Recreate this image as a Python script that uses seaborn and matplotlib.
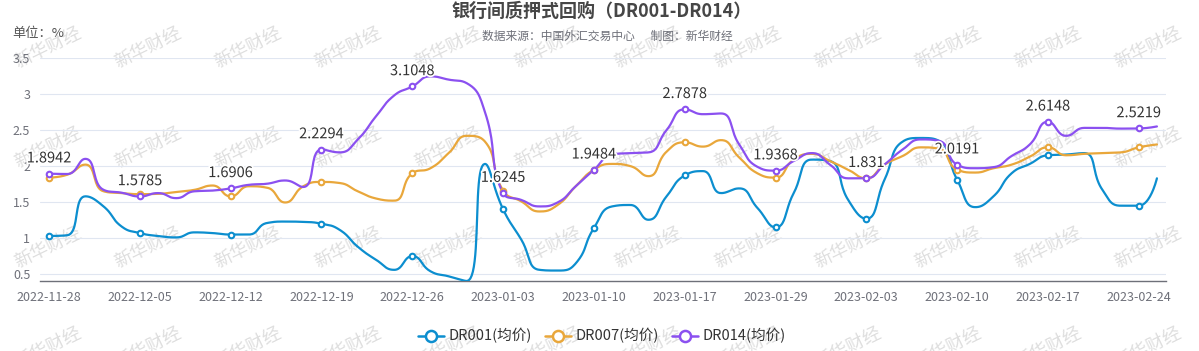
import numpy as np
import matplotlib
matplotlib.use("Agg")
import matplotlib.pyplot as plt
import seaborn as sns
from matplotlib import patheffects
from matplotlib.lines import Line2D

sns.set_theme(style="white")
plt.rcParams["font.family"] = ["Noto Sans CJK SC", "DejaVu Sans"]

# ---- data ----
dates = [
    "2022-11-28", "2022-11-29", "2022-11-30", "2022-12-01", "2022-12-02",
    "2022-12-05", "2022-12-06", "2022-12-07", "2022-12-08", "2022-12-09",
    "2022-12-12", "2022-12-13", "2022-12-14", "2022-12-15", "2022-12-16",
    "2022-12-19", "2022-12-20", "2022-12-21", "2022-12-22", "2022-12-23",
    "2022-12-26", "2022-12-27", "2022-12-28", "2022-12-29", "2022-12-30",
    "2023-01-03", "2023-01-04", "2023-01-05", "2023-01-06", "2023-01-09",
    "2023-01-10", "2023-01-11", "2023-01-12", "2023-01-13", "2023-01-16",
    "2023-01-17", "2023-01-18", "2023-01-19", "2023-01-20", "2023-01-28",
    "2023-01-29", "2023-01-30", "2023-01-31", "2023-02-01", "2023-02-02",
    "2023-02-03", "2023-02-06", "2023-02-07", "2023-02-08", "2023-02-09",
    "2023-02-10", "2023-02-13", "2023-02-14", "2023-02-15", "2023-02-16",
    "2023-02-17", "2023-02-20", "2023-02-21", "2023-02-22", "2023-02-23",
    "2023-02-24", "2023-02-27",
]

dr001 = [
    1.03, 1.04, 1.58, 1.44, 1.16, 1.07, 1.03, 1.01, 1.08, 1.07,
    1.05, 1.05, 1.21, 1.23, 1.225, 1.20, 1.115, 0.88, 0.70, 0.56,
    0.75, 0.54, 0.47, 0.405, 2.03, 1.40, 0.98, 0.56, 0.55, 0.65,
    1.14, 1.44, 1.46, 1.255, 1.58, 1.87, 1.93, 1.625, 1.69, 1.42,
    1.15, 1.625, 2.09, 2.07, 1.53, 1.27, 1.81, 2.34, 2.39, 2.35,
    1.81, 1.43, 1.58, 1.90, 2.03, 2.15, 2.16, 2.18, 1.67, 1.45,
    1.45, 1.83,
]
dr007 = [
    1.84, 1.88, 2.02, 1.65, 1.625, 1.61, 1.615, 1.64, 1.67, 1.73,
    1.58, 1.72, 1.70, 1.495, 1.72, 1.78, 1.765, 1.65, 1.55, 1.52,
    1.90, 1.97, 2.18, 2.42, 2.34, 1.66, 1.51, 1.37, 1.46, 1.72,
    1.95, 2.03, 2.00, 1.86, 2.20, 2.33, 2.27, 2.36, 2.12, 1.90,
    1.84, 2.09, 2.17, 2.07, 1.95, 1.83, 2.02, 2.14, 2.26, 2.24,
    1.95, 1.91, 1.97, 2.02, 2.13, 2.26, 2.15, 2.17, 2.18, 2.19,
    2.26, 2.30,
]
dr014 = [
    1.8942, 1.89, 2.10, 1.67, 1.63, 1.5785, 1.625, 1.555, 1.65, 1.66,
    1.6906, 1.74, 1.755, 1.80, 1.71, 2.2294, 2.19, 2.37, 2.69, 2.98,
    3.1048, 3.245, 3.20, 3.15, 2.75, 1.6245, 1.53, 1.44, 1.495, 1.72,
    1.9484, 2.16, 2.18, 2.19, 2.50, 2.7878, 2.72, 2.73, 2.30, 1.99,
    1.9368, 2.07, 2.18, 2.02, 1.83, 1.831, 2.02, 2.23, 2.37, 2.35,
    2.0191, 1.97, 1.985, 2.14, 2.30, 2.6148, 2.42, 2.53, 2.53, 2.52,
    2.5219, 2.55,
]

series_names = ["DR001(均价)", "DR007(均价)", "DR014(均价)"]
colors = ["#0C8ECF", "#E9A73B", "#8B50F0"]

W, H = 1199, 351
fig = plt.figure(figsize=(W / 100, H / 100), dpi=100)
ax = fig.add_axes([40 / W, 1 - 281 / H, 1126 / W, 223 / H])
ax.set_facecolor("none")

n = len(dates)
idx = np.arange(n)
ymin = min(min(dr001), min(dr007), min(dr014))
ymax = 3.5
sx = 1126 / n
sy = 223 / (ymax - ymin)


def smooth_line(xs, ys, smooth=0.5, steps=24):
    # echarts style bezier smoothing (in pixel space)
    px = np.asarray(xs, float) * sx
    py = np.asarray(ys, float) * sy
    out_x, out_y = [px[0]], [py[0]]
    cp0 = (px[0], py[0])
    for i in range(1, len(px)):
        x, y = px[i], py[i]
        prx, pry = px[i - 1], py[i - 1]
        if i == len(px) - 1:
            cp1 = (x, y)
            ncp0 = (x, y)
        else:
            nx, ny = px[i + 1], py[i + 1]
            vx, vy = nx - prx, ny - pry
            lp = np.hypot(x - prx, y - pry)
            ln = np.hypot(nx - x, ny - y)
            r = ln / (ln + lp)
            ncx = x + vx * smooth * r
            ncy = y + vy * smooth * r
            ncx = max(min(ncx, max(nx, x)), min(nx, x))
            ncy = max(min(ncy, max(ny, y)), min(ny, y))
            vx, vy = ncx - x, ncy - y
            c1x = x - vx * lp / ln
            c1y = y - vy * lp / ln
            c1x = max(min(c1x, max(prx, x)), min(prx, x))
            c1y = max(min(c1y, max(pry, y)), min(pry, y))
            vx, vy = x - c1x, y - c1y
            ncp0 = (x + vx * ln / lp, y + vy * ln / lp)
            cp1 = (c1x, c1y)
        t = np.linspace(0, 1, steps)[1:]
        bx = ((1 - t) ** 3 * prx + 3 * (1 - t) ** 2 * t * cp0[0]
              + 3 * (1 - t) * t ** 2 * cp1[0] + t ** 3 * x)
        by = ((1 - t) ** 3 * pry + 3 * (1 - t) ** 2 * t * cp0[1]
              + 3 * (1 - t) * t ** 2 * cp1[1] + t ** 3 * y)
        out_x.extend(bx)
        out_y.extend(by)
        cp0 = ncp0
    return np.array(out_x) / sx, np.array(out_y) / sy


# ---- watermark ----
for r in range(4):
    for c in range(12):
        fig.text((48 + 100 * c) / W, 1 - (48 + 100 * r) / H, "新华财经",
                 rotation=26, fontsize=13, color="#dedede",
                 ha="center", va="center", zorder=-5)

# ---- lines ----
all_vals = [dr001, dr007, dr014]
shown = idx[::5]
for vals, col in zip(all_vals, colors):
    lx, ly = smooth_line(idx, vals)
    sns.lineplot(x=lx, y=ly, ax=ax, color=col, linewidth=1.6,
                 sort=False, estimator=None, zorder=3)
    ax.plot(shown, np.array(vals)[shown], "o", ms=4, mfc="white",
            mec=col, mew=1.5, zorder=4)

# labels on DR014
for i in shown:
    v = dr014[i]
    ax.annotate(f"{v:g}", (i, v), xytext=(0, 11), textcoords="offset points",
                ha="center", va="center", fontsize=10.5, color="#333333",
                zorder=6,
                path_effects=[patheffects.withStroke(linewidth=2.5, foreground="white")])

# ---- axes ----
ax.set_xlim(-0.5, n - 0.5)
ax.set_ylim(ymin, ymax)
ax.set_yticks([0.5, 1, 1.5, 2, 2.5, 3, 3.5])
ax.set_yticklabels(["0.5", "1", "1.5", "2", "2.5", "3", "3.5"])
ax.set_xticks(shown)
ax.set_xticklabels([dates[i] for i in shown])
ax.set_xticks(list(np.arange(-0.5, n - 1, 5)) + [n - 0.5], minor=True)
ax.tick_params(axis="x", which="major", length=0, pad=7, labelsize=9, labelcolor="#6E7079")
ax.tick_params(axis="x", which="minor", length=4, width=1, color="#6E7079", direction="out")
ax.tick_params(axis="y", length=0, pad=7, labelsize=9, labelcolor="#6E7079")
ax.grid(axis="y", color="#E0E6F1", linewidth=0.8, zorder=0)
ax.grid(axis="x", visible=False)
for s in ["top", "right", "left"]:
    ax.spines[s].set_visible(False)
ax.spines["bottom"].set_color("#6E7079")
ax.spines["bottom"].set_linewidth(1)
ax.set_xlabel("")
ax.set_ylabel("")

# ---- titles ----
fig.text(602 / W, 1 - 11 / H, "银行间质押式回购（DR001-DR014）", ha="center", va="center",
         fontsize=13, fontweight="bold", color="#464646")
fig.text(607 / W, 1 - 36 / H, "数据来源：中国外汇交易中心      制图：新华财经", ha="center",
         va="center", fontsize=8.5, color="#6E7079")
fig.text(12 / W, 1 - 34 / H, "单位：%", ha="left", va="center", fontsize=9.5, color="#555555")

# ---- legend ----
handles = [Line2D([0], [0], color=c, lw=1.8, marker="o", ms=8, mfc="white", mew=1.8)
           for c in colors]
fig.legend(handles, series_names, loc="center", bbox_to_anchor=(602 / W, 1 - 336 / H),
           ncol=3, frameon=False, fontsize=10.5, handlelength=1.8, handletextpad=0.3,
           columnspacing=0.9, labelcolor="#333333")

fig.savefig("out.png", dpi=100)
